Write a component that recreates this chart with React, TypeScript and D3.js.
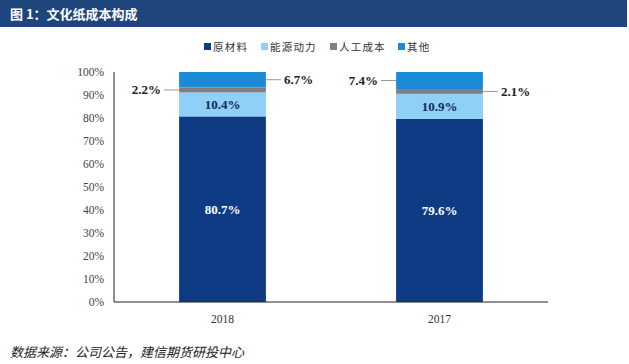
import React from "react";
import * as d3 from "d3";

const categories = ["2018", "2017"];
const seriesNames = ["原材料", "能源动力", "人工成本", "其他"];
const rawMaterial = [80.7, 79.6];
const energy = [10.4, 10.9];
const labor = [2.2, 2.1];
const other = [6.7, 7.4];
const yTicks = [0, 10, 20, 30, 40, 50, 60, 70, 80, 90, 100];
const titleText = "图 1：文化纸成本构成";
const sourceText = "数据来源：公司公告，建信期货研投中心";

const colors = ["#0E3B83", "#8ED0F6", "#808080", "#1B8BD8"];
// outside label side per series per category (-1 left, 1 right, 0 inside)
const labelSide = [
  [0, 0],
  [0, 0],
  [-1, 1],
  [1, -1],
];

const W = 629;
const H = 364;
const serif = "'Liberation Serif', 'Times New Roman', serif";
const cjk = "'Noto Sans CJK SC', sans-serif";

export default function App() {
  const seriesValues = [rawMaterial, energy, labor, other];
  const table = categories.map((c, i) => {
    const row: any = { cat: c };
    seriesNames.forEach((s, j) => (row[s] = seriesValues[j][i]));
    return row;
  });
  const stacked = d3.stack<any>().keys(seriesNames)(table);

  const x = d3
    .scaleBand<string>()
    .domain(categories)
    .range([114, 548])
    .paddingInner(0.6)
    .paddingOuter(0.3);
  const y = d3.scaleLinear().domain([0, 100]).range([302, 72]);

  const legendX = [204, 261, 330, 398];

  return (
    <svg
      width={W}
      height={H}
      style={{ position: "absolute", left: 0, top: 0, background: "#fff" }}
    >
      <rect x={0} y={0} width={W} height={H} fill="#fff" />
      {/* header */}
      <rect x={0} y={0} width={627} height={27} fill="#1F467C" />
      <text
        x={10}
        y={19}
        fill="#fff"
        fontFamily={cjk}
        fontWeight="bold"
        fontSize={13}
      >
        {titleText}
      </text>

      {/* legend */}
      {seriesNames.map((s, i) => (
        <g key={s}>
          <rect x={legendX[i]} y={43} width={7} height={7} fill={colors[i]} />
          <text
            x={legendX[i] + 9}
            y={51}
            fontFamily={cjk}
            fontSize={10.5}
            letterSpacing={1.2}
            fill="#333"
          >
            {s}
          </text>
        </g>
      ))}

      {/* bars */}
      {stacked.map((layer, si) => (
        <g key={layer.key}>
          {layer.map((d, ci) => (
            <rect
              key={ci}
              x={x(categories[ci])}
              y={y(d[1])}
              width={x.bandwidth()}
              height={y(d[0]) - y(d[1])}
              fill={colors[si]}
            />
          ))}
        </g>
      ))}

      {/* labels */}
      {stacked.map((layer, si) =>
        layer.map((d, ci) => {
          const v = seriesValues[si][ci];
          const cy = (y(d[0]) + y(d[1])) / 2;
          const bx = x(categories[ci]) as number;
          const bw = x.bandwidth();
          const side = labelSide[si][ci];
          const txt = v.toFixed(1) + "%";
          if (side === 0) {
            return (
              <text
                key={`${si}-${ci}`}
                x={bx + bw / 2}
                y={cy}
                dy="0.35em"
                textAnchor="middle"
                fontFamily={serif}
                fontWeight="bold"
                fontSize={13}
                fill={si === 0 ? "#fff" : "#0E2A55"}
              >
                {txt}
              </text>
            );
          }
          const edge = side < 0 ? bx : bx + bw;
          const lineEnd = edge + side * 15;
          return (
            <g key={`${si}-${ci}`}>
              <line
                x1={edge}
                x2={lineEnd}
                y1={cy}
                y2={cy}
                stroke="#999"
                strokeWidth={1}
              />
              <text
                x={lineEnd + side * 3}
                y={cy}
                dy="0.35em"
                textAnchor={side < 0 ? "end" : "start"}
                fontFamily={serif}
                fontWeight="bold"
                fontSize={13}
                fill="#222"
              >
                {txt}
              </text>
            </g>
          );
        })
      )}

      {/* axes */}
      <line x1={114} x2={114} y1={y(100)} y2={y(0)} stroke="#222" strokeWidth={1} />
      <line x1={114} x2={548} y1={y(0)} y2={y(0)} stroke="#222" strokeWidth={1} />
      {yTicks.map((t) => (
        <text
          key={t}
          x={104}
          y={y(t)}
          dy="0.35em"
          textAnchor="end"
          fontFamily={serif}
          fontSize={11.5}
          fill="#444"
        >
          {t}%
        </text>
      ))}
      {categories.map((c) => (
        <text
          key={c}
          x={(x(c) as number) + x.bandwidth() / 2}
          y={319}
          dy="0.35em"
          textAnchor="middle"
          fontFamily={serif}
          fontSize={11.5}
          fill="#333"
        >
          {c}
        </text>
      ))}

      {/* source */}
      <text
        x={10}
        y={357}
        fontFamily={cjk}
        fontStyle="italic"
        fontSize={13}
        fill="#222"
      >
        {sourceText}
      </text>
    </svg>
  );
}
